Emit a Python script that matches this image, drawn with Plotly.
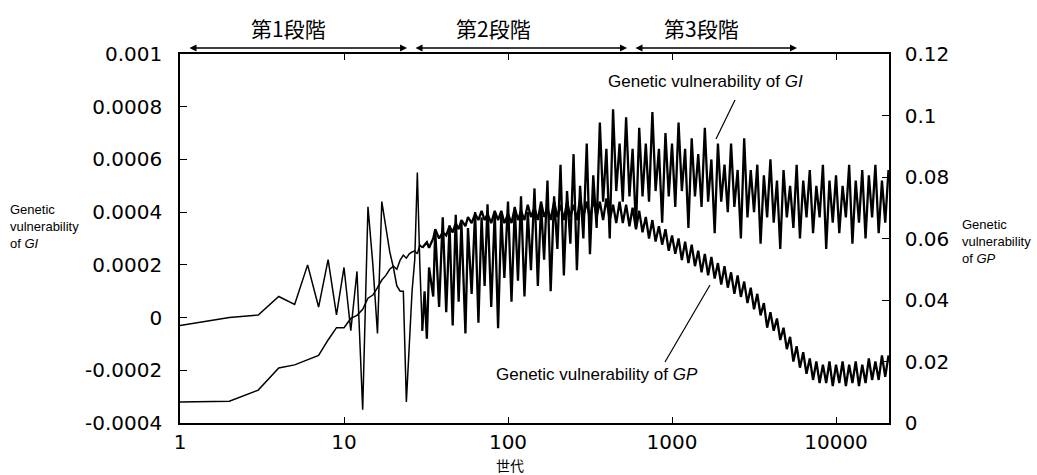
import plotly.graph_objects as go

# Generation (世代) sample points
generations = [
    1, 2, 3, 4, 5, 6, 7, 8, 9, 10, 11, 12, 13, 14, 15, 16, 17, 18, 19, 20,
    21, 22, 23, 24, 25, 26, 27, 28, 29, 30, 31,
    32, 33, 35, 36, 38, 40, 42, 44, 46, 48, 50, 52, 55, 57, 60, 63, 66, 69, 72, 75,
    79, 83, 87, 91, 95, 100,
    105, 110, 115, 120, 126, 132, 138, 145, 152, 159,
    166, 174, 182, 191, 200, 209, 219, 229, 240, 251,
    263, 275, 288, 302, 316, 331, 347, 363, 380, 398,
    417, 437, 457, 479, 501, 525, 550, 575, 603, 631,
    661, 692, 724, 759, 794, 832, 871, 912, 955, 1000,
    1047, 1096, 1148, 1202, 1259, 1318, 1380, 1445, 1514, 1585,
    1660, 1738, 1820, 1905, 1995, 2089, 2188, 2291, 2399, 2512,
    2630, 2754, 2884, 3020, 3162, 3311, 3467, 3631, 3802, 3981,
    4169, 4365, 4571, 4786, 5012, 5248, 5495, 5754, 6026, 6310,
    6607, 6918, 7244, 7586, 7943, 8318, 8710, 9120, 9550, 10000,
    10471, 10965, 11482, 12023, 12589, 13183, 13804, 14454, 15136, 15849,
    16596, 17378, 18197, 19055, 19953, 20893,
]

# Genetic vulnerability of GI (left axis)
gi_values = [
    -0.3e-4, 0.0e-4, 0.1e-4, 0.8e-4, 0.5e-4, 2.0e-4, 0.4e-4, 2.2e-4, 0.1e-4, 1.9e-4,
    -0.5e-4, 1.75e-4, -3.5e-4, 4.2e-4, 2.0e-4, -0.6e-4, 4.4e-4, 3.4e-4, 2.5e-4, 1.9e-4,
    1.2e-4, 1.0e-4, 1.0e-4, -3.2e-4, -1.0e-4, 1.0e-4, 2.2e-4, 5.5e-4, 2.0e-4, -0.5e-4, 1.0e-4,
    -0.8e-4, 1.9e-4, 0.8e-4, 3.3e-4, 0.4e-4, 3.8e-4, 0.2e-4, 3.5e-4, -0.3e-4, 3.9e-4,
    0.6e-4, 3.6e-4, -0.6e-4, 3.4e-4, 0.9e-4, 4.0e-4, -0.2e-4, 3.8e-4, 1.2e-4, 4.3e-4,
    0.4e-4, 4.0e-4, -0.4e-4, 3.9e-4, 1.5e-4, 4.4e-4,
    0.6e-4, 4.2e-4, 1.4e-4, 4.6e-4, 0.8e-4, 4.0e-4, 1.8e-4, 4.9e-4, 1.2e-4, 4.3e-4,
    2.2e-4, 5.2e-4, 1.0e-4, 4.6e-4, 2.6e-4, 5.8e-4, 1.6e-4, 4.8e-4, 2.8e-4, 6.2e-4,
    1.8e-4, 5.0e-4, 3.0e-4, 6.6e-4, 2.4e-4, 5.4e-4, 3.4e-4, 7.4e-4, 4.4e-4, 6.4e-4,
    3.0e-4, 7.9e-4, 4.8e-4, 6.6e-4, 4.4e-4, 7.6e-4, 4.6e-4, 6.4e-4, 3.4e-4, 7.2e-4,
    4.6e-4, 6.6e-4, 4.4e-4, 7.8e-4, 4.8e-4, 6.4e-4, 3.6e-4, 7.0e-4, 4.6e-4, 6.6e-4,
    4.2e-4, 7.4e-4, 4.8e-4, 6.4e-4, 3.4e-4, 6.8e-4, 4.6e-4, 6.2e-4, 4.2e-4, 7.2e-4,
    4.4e-4, 6.0e-4, 3.2e-4, 6.6e-4, 4.4e-4, 5.8e-4, 4.0e-4, 6.6e-4, 4.2e-4, 5.6e-4,
    3.0e-4, 6.8e-4, 3.8e-4, 5.6e-4, 4.0e-4, 5.8e-4, 2.8e-4, 5.4e-4, 3.8e-4, 6.0e-4,
    3.6e-4, 5.2e-4, 2.6e-4, 5.6e-4, 3.8e-4, 5.0e-4, 3.4e-4, 5.8e-4, 3.0e-4, 5.2e-4,
    3.8e-4, 5.6e-4, 3.2e-4, 5.0e-4, 3.8e-4, 5.8e-4, 2.6e-4, 5.2e-4, 3.6e-4, 5.4e-4,
    3.2e-4, 5.0e-4, 3.8e-4, 5.8e-4, 2.8e-4, 5.2e-4, 3.6e-4, 5.6e-4, 3.0e-4, 5.4e-4,
    3.8e-4, 5.8e-4, 3.2e-4, 5.2e-4, 3.6e-4, 5.6e-4,
]

# Genetic vulnerability of GP (right axis)
gp_values = [
    0.68e-2, 0.71e-2, 1.07e-2, 1.79e-2, 1.89e-2, 2.05e-2, 2.2e-2, 2.7e-2, 3.1e-2, 3.1e-2,
    3.4e-2, 3.5e-2, 3.7e-2, 4.06e-2, 4.16e-2, 4.4e-2, 4.65e-2, 4.8e-2, 5.0e-2, 5.1e-2,
    5.0e-2, 5.3e-2, 5.46e-2, 5.36e-2, 5.5e-2, 5.56e-2, 5.6e-2, 5.5e-2, 5.8e-2, 5.7e-2, 5.8e-2,
    5.88e-2, 5.7e-2, 6.0e-2, 6.3e-2, 6.0e-2, 6.2e-2, 6.1e-2, 6.4e-2, 6.2e-2, 6.5e-2,
    6.3e-2, 6.6e-2, 6.4e-2, 6.7e-2, 6.5e-2, 6.8e-2, 6.6e-2, 6.9e-2, 6.6e-2, 6.8e-2,
    6.5e-2, 6.9e-2, 6.6e-2, 6.9e-2, 6.5e-2, 6.8e-2,
    6.5e-2, 7.0e-2, 6.6e-2, 6.9e-2, 6.6e-2, 7.1e-2, 6.7e-2, 7.0e-2, 6.6e-2, 7.2e-2,
    6.7e-2, 7.0e-2, 6.6e-2, 7.2e-2, 6.7e-2, 7.1e-2, 6.6e-2, 7.2e-2, 6.7e-2, 7.1e-2,
    6.6e-2, 7.3e-2, 6.7e-2, 7.2e-2, 6.6e-2, 7.3e-2, 6.7e-2, 7.2e-2, 6.6e-2, 7.3e-2,
    6.6e-2, 7.1e-2, 6.5e-2, 7.2e-2, 6.5e-2, 7.1e-2, 6.4e-2, 7.0e-2, 6.3e-2, 6.9e-2,
    6.2e-2, 6.7e-2, 6.0e-2, 6.6e-2, 5.9e-2, 6.4e-2, 5.8e-2, 6.3e-2, 5.6e-2, 6.1e-2,
    5.5e-2, 6.0e-2, 5.3e-2, 5.9e-2, 5.2e-2, 5.8e-2, 5.1e-2, 5.6e-2, 4.9e-2, 5.5e-2,
    4.8e-2, 5.4e-2, 4.7e-2, 5.2e-2, 4.5e-2, 5.1e-2, 4.4e-2, 4.9e-2, 4.2e-2, 4.8e-2,
    4.1e-2, 4.6e-2, 3.9e-2, 4.4e-2, 3.7e-2, 4.2e-2, 3.5e-2, 3.9e-2, 3.1e-2, 3.6e-2,
    3.0e-2, 3.4e-2, 2.7e-2, 3.1e-2, 2.4e-2, 2.8e-2, 2.0e-2, 2.5e-2, 1.8e-2, 2.3e-2,
    1.6e-2, 2.1e-2, 1.4e-2, 2.0e-2, 1.3e-2, 1.9e-2, 1.3e-2, 2.0e-2, 1.2e-2, 1.9e-2,
    1.3e-2, 2.0e-2, 1.2e-2, 1.9e-2, 1.3e-2, 2.0e-2, 1.2e-2, 1.9e-2, 1.3e-2, 2.1e-2,
    1.4e-2, 2.0e-2, 1.4e-2, 2.2e-2, 1.5e-2, 2.2e-2,
]

x_tick_vals = [1, 10, 100, 1000, 10000]
x_tick_text = ["1", "10", "100", "1000", "10000"]
left_tick_vals = [-0.0004, -0.0002, 0, 0.0002, 0.0004, 0.0006, 0.0008, 0.001]
left_tick_text = ["-0.0004", "-0.0002", "0", "0.0002", "0.0004", "0.0006", "0.0008", "0.001"]
right_tick_vals = [0, 0.02, 0.04, 0.06, 0.08, 0.1, 0.12]
right_tick_text = ["0", "0.02", "0.04", "0.06", "0.08", "0.1", "0.12"]

stage_labels = ["第1段階", "第2段階", "第3段階"]

TICK_FONT = dict(family="DejaVu Sans", size=20, color="black")
LABEL_FONT = "Liberation Sans Narrow, Arial Narrow, Liberation Sans, Arial"

# early (sparse) part drawn thin, dense noisy part drawn thicker
split = generations.index(30)

fig = go.Figure()
for vals, yax in [(gi_values, "y"), (gp_values, "y2")]:
    fig.add_trace(go.Scatter(x=generations[:split + 1], y=vals[:split + 1], mode="lines",
                             line=dict(color="black", width=1.5), yaxis=yax,
                             hoverinfo="skip"))
    fig.add_trace(go.Scatter(x=generations[split:], y=vals[split:], mode="lines",
                             line=dict(color="black", width=2.3), yaxis=yax,
                             hoverinfo="skip"))

axis_common = dict(showgrid=False, zeroline=False, showline=True, linecolor="black",
                   linewidth=1.5, ticks="inside", tickcolor="black", tickwidth=1,
                   tickfont=TICK_FONT)

fig.update_layout(
    width=1037, height=475,
    margin=dict(l=180, r=148, t=54, b=52),
    paper_bgcolor="white", plot_bgcolor="white",
    showlegend=False,
    xaxis=dict(type="log", range=[0, 4.323], tickvals=x_tick_vals, ticktext=x_tick_text,
               ticklen=6, mirror="ticks", ticklabelstandoff=0, **axis_common),
    yaxis=dict(range=[-0.0004, 0.001], tickvals=left_tick_vals, ticktext=left_tick_text,
               ticklen=7, ticklabelstandoff=12, **axis_common),
    yaxis2=dict(range=[0, 0.12], tickvals=right_tick_vals, ticktext=right_tick_text,
                overlaying="y", side="right", ticklen=7, ticklabelstandoff=10,
                **axis_common),
)

annotations = []
# stage titles
for label, xc in zip(stage_labels, [0.1537, 0.4415, 0.7362]):
    annotations.append(dict(xref="paper", yref="paper", x=xc, y=1.0705, text=label,
                            showarrow=False, xanchor="center", yanchor="middle",
                            font=dict(family="Noto Sans CJK JP", size=21, color="black")))
# stage double-headed arrows (head x in paper, tail offset in px)
for xh, axp in [(0.3202, -219), (0.6305, -213), (0.8702, -163)]:
    annotations.append(dict(xref="paper", yref="paper", x=xh, y=1.0163, text="",
                            showarrow=True, ax=axp, ay=0, arrowhead=2, arrowsize=1,
                            arrowwidth=1.4, arrowside="end+start", arrowcolor="black",
                            standoff=0, startstandoff=0))
# series labels
annotations.append(dict(xref="paper", yref="paper", x=(705 - 180) / 709, y=(423 - 82) / 369,
                        text="Genetic vulnerability of <i>GI</i>", showarrow=False,
                        xanchor="center", yanchor="middle",
                        font=dict(family=LABEL_FONT, size=17, color="black")))
annotations.append(dict(xref="paper", yref="paper", x=(597 - 180) / 709, y=(423 - 374) / 369,
                        text="Genetic vulnerability of <i>GP</i>", showarrow=False,
                        xanchor="center", yanchor="middle",
                        font=dict(family=LABEL_FONT, size=17, color="black")))
# axis side labels
annotations.append(dict(xref="paper", yref="paper", x=(8 - 180) / 709, y=(423 - 226) / 369,
                        text="Genetic<br>vulnerability<br>of <i>GI</i>", showarrow=False,
                        xanchor="left", yanchor="middle", align="left",
                        font=dict(family=LABEL_FONT, size=13, color="black")))
annotations.append(dict(xref="paper", yref="paper", x=(960 - 180) / 709, y=(423 - 241) / 369,
                        text="Genetic<br>vulnerability<br>of <i>GP</i>", showarrow=False,
                        xanchor="left", yanchor="middle", align="left",
                        font=dict(family=LABEL_FONT, size=13, color="black")))
# x axis title
annotations.append(dict(xref="paper", yref="paper", x=(510 - 180) / 709, y=(423 - 465) / 369,
                        text="世代", showarrow=False, xanchor="center", yanchor="middle",
                        borderpad=0,
                        font=dict(family="Noto Sans CJK JP", size=14, color="black")))
fig.update_layout(annotations=annotations)

# leader lines
fig.add_shape(type="line", xref="paper", yref="paper",
              x0=(735 - 180) / 709, y0=(423 - 100) / 369, x1=(716 - 180) / 709, y1=(423 - 139) / 369,
              line=dict(color="black", width=1.2))
fig.add_shape(type="line", xref="paper", yref="paper",
              x0=(665 - 180) / 709, y0=(423 - 362) / 369, x1=(710 - 180) / 709, y1=(423 - 285) / 369,
              line=dict(color="black", width=1.2))

fig.write_html("out.html")
